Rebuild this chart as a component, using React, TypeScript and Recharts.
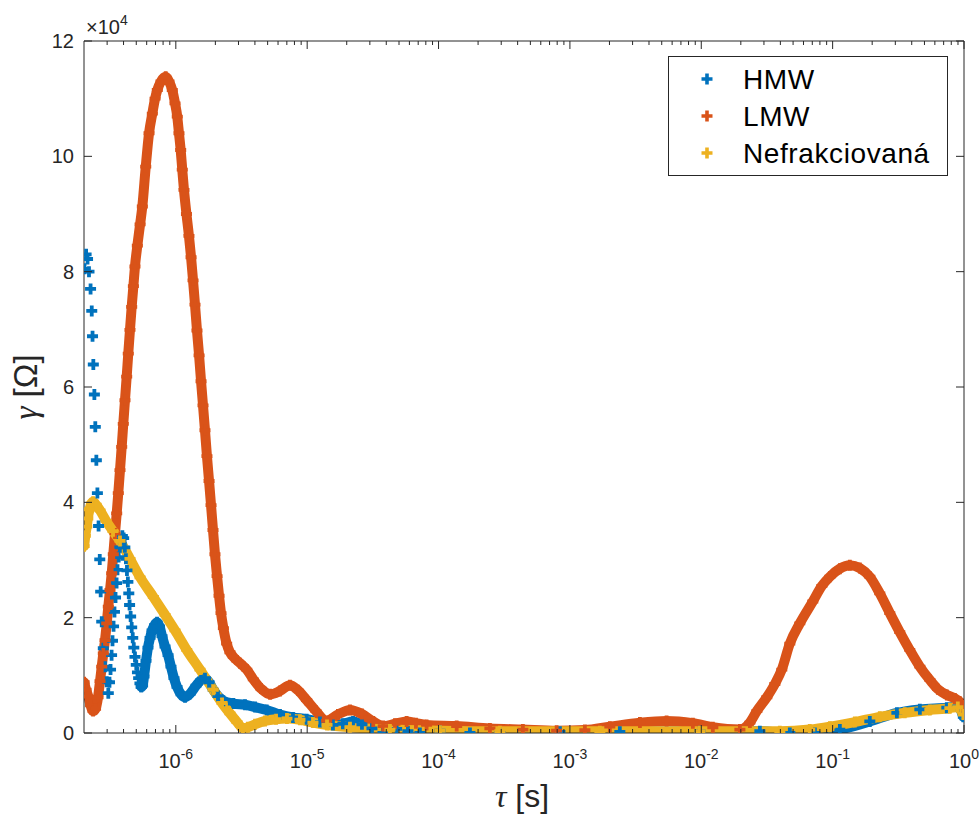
import { ComposedChart, Line, XAxis, YAxis } from "recharts";

const BLUE = "#0072BD";
const ORANGE = "#D95319";
const YELLOW = "#EDB120";
const AXIS = "#262626";
const SANS = '"Liberation Sans", Arial, Helvetica, sans-serif';
const SERIF = '"Liberation Serif", "DejaVu Serif", serif';

// tau is kept as log10(tau / s), gamma in units of 1e4 Ohm (axis shows x10^4)

// HMW, first part: sparse markers only
const hmwEdgeLogTau = [
  -6.695, -6.683, -6.672, -6.661, -6.649, -6.64, -6.634, -6.628, -6.62, -6.613,
  -6.605, -6.597, -6.588, -6.579, -6.572, -6.564, -6.552, -6.539, -6.526, -6.514,
  -6.505, -6.497, -6.489, -6.482, -6.474, -6.467, -6.459, -6.451, -6.444, -6.435,
  -6.426, -6.417, -6.407, -6.397, -6.388, -6.38, -6.372, -6.365, -6.358, -6.352,
  -6.344, -6.336, -6.328, -6.32, -6.311, -6.301, -6.292, -6.283, -6.273, -6.263,
];
const hmwEdgeGamma = [
  8.05, 8.3, 8.22, 8.0, 7.7, 7.32, 6.88, 6.39, 5.87, 5.31,
  4.73, 4.16, 3.59, 3.01, 2.45, 1.93, 1.47, 1.15, 0.89, 0.69,
  0.88, 1.1, 1.35, 1.6, 1.85, 2.1, 2.35, 2.6, 2.83, 3.05,
  3.22, 3.35, 3.42, 3.38, 3.22, 3.02, 2.82, 2.62, 2.42, 2.22,
  2.02, 1.83, 1.65, 1.48, 1.32, 1.18, 1.05, 0.95, 0.86, 0.8,
];

// HMW, rest of the curve
const hmwLogTau = [
  -6.263, -6.253, -6.242, -6.227, -6.212, -6.196, -6.181, -6.162, -6.143, -6.124,
  -6.105, -6.082, -6.059, -6.037, -6.014, -5.991, -5.96, -5.93, -5.892, -5.846,
  -5.808, -5.778, -5.747, -5.715, -5.679, -5.638, -5.562, -5.473, -5.397, -5.308,
  -5.207, -5.108, -5.004, -4.903, -4.804, -4.728, -4.651, -4.583, -4.507, -4.423,
  -4.319, -4.233, -4.142, -3.989, -3.761, -3.533, -3.076, -2.62, -2.011, -1.554,
  -1.326, -1.135, -0.945, -0.717, -0.511, -0.336, -0.131, -0.047, -0.005,
];
const hmwGamma = [
  0.8, 0.82, 0.98, 1.25, 1.48, 1.65, 1.78, 1.87, 1.92, 1.85,
  1.68, 1.5, 1.35, 1.15, 0.95, 0.8, 0.67, 0.62, 0.68, 0.82,
  0.92, 0.95, 0.88, 0.75, 0.64, 0.56, 0.51, 0.49, 0.45, 0.4,
  0.32, 0.27, 0.24, 0.19, 0.14, 0.16, 0.2, 0.15, 0.08, 0.0,
  0.07, 0.03, 0.0, 0.04, 0.0, 0.0, 0.02, 0.02, 0.03, 0.03,
  0.0, 0.0, 0.06, 0.2, 0.35, 0.41, 0.44, 0.46, 0.28,
];

const lmwLogTau = [
  -6.698, -6.683, -6.666, -6.649, -6.63, -6.611, -6.592, -6.577, -6.564, -6.552,
  -6.539, -6.526, -6.514, -6.501, -6.488, -6.476, -6.463, -6.45, -6.438, -6.425,
  -6.412, -6.4, -6.387, -6.374, -6.362, -6.349, -6.336, -6.323, -6.311, -6.293,
  -6.272, -6.255, -6.229, -6.204, -6.179, -6.158, -6.141, -6.113, -6.077, -6.052,
  -6.027, -6.006, -5.989, -5.976, -5.963, -5.951, -5.938, -5.919, -5.9, -5.884,
  -5.869, -5.854, -5.839, -5.823, -5.808, -5.793, -5.778, -5.763, -5.747, -5.732,
  -5.717, -5.702, -5.686, -5.671, -5.656, -5.638, -5.613, -5.588, -5.562, -5.511,
  -5.46, -5.41, -5.352, -5.283, -5.207, -5.131, -5.07, -5.004, -4.933, -4.852,
  -4.766, -4.674, -4.583, -4.497, -4.421, -4.332, -4.243, -4.172, -4.091, -3.862,
  -3.609, -3.358, -3.101, -2.886, -2.696, -2.467, -2.264, -2.064, -1.912, -1.706,
  -1.63, -1.577, -1.501, -1.44, -1.387, -1.326, -1.25, -1.151, -1.082, -1.021,
  -0.945, -0.869, -0.793, -0.717, -0.641, -0.565, -0.489, -0.413, -0.336, -0.26,
  -0.199, -0.131, -0.07, -0.032, -0.005,
];
const lmwGamma = [
  0.88, 0.75, 0.63, 0.48, 0.38, 0.42, 0.62, 0.9, 1.15, 1.38,
  1.61, 1.9, 2.19, 2.48, 2.77, 3.1, 3.46, 3.81, 4.16, 4.56,
  4.96, 5.36, 5.77, 6.18, 6.58, 6.99, 7.39, 7.75, 8.09, 8.45,
  8.82, 9.13, 9.82, 10.4, 10.74, 11.0, 11.15, 11.3, 11.38, 11.3,
  11.15, 10.92, 10.69, 10.4, 10.11, 9.77, 9.42, 9.0, 8.62, 8.25,
  7.85, 7.43, 6.98, 6.55, 6.1, 5.68, 5.25, 4.8, 4.37, 3.95,
  3.52, 3.1, 2.72, 2.38, 2.08, 1.82, 1.55, 1.4, 1.32, 1.21,
  1.1, 0.93, 0.77, 0.67, 0.73, 0.83, 0.74, 0.57, 0.38, 0.21,
  0.32, 0.4, 0.33, 0.2, 0.12, 0.16, 0.2, 0.17, 0.14, 0.12,
  0.08, 0.06, 0.04, 0.05, 0.11, 0.18, 0.21, 0.17, 0.1, 0.06,
  0.18, 0.38, 0.62, 0.85, 1.1, 1.55, 1.9, 2.28, 2.55, 2.71,
  2.85, 2.91, 2.86, 2.71, 2.42, 2.08, 1.75, 1.44, 1.15, 0.92,
  0.76, 0.66, 0.6, 0.54, 0.45,
];

const nefLogTau = [
  -6.698, -6.689, -6.678, -6.67, -6.657, -6.642, -6.63, -6.607, -6.577, -6.531,
  -6.478, -6.425, -6.349, -6.272, -6.171, -6.082, -6.006, -5.917, -5.816, -5.715,
  -5.648, -5.588, -5.534, -5.489, -5.451, -5.397, -5.321, -5.237, -5.154, -5.055,
  -4.956, -4.849, -4.674, -4.37, -3.989, -3.533, -2.772, -2.011, -1.402, -1.174,
  -1.021, -0.831, -0.641, -0.451, -0.26, -0.108, -0.047, -0.005,
];
const nefGamma = [
  3.24, 3.42, 3.58, 3.72, 3.88, 3.98, 4.01, 3.96, 3.86, 3.68,
  3.5, 3.33, 3.02, 2.7, 2.36, 2.05, 1.78, 1.44, 1.1, 0.75,
  0.52, 0.34, 0.19, 0.08, 0.1, 0.15, 0.21, 0.24, 0.25, 0.23,
  0.18, 0.14, 0.1, 0.06, 0.04, 0.03, 0.03, 0.03, 0.03, 0.06,
  0.11, 0.19, 0.28, 0.35, 0.4, 0.43, 0.45, 0.32,
];

const seriesNames = ["HMW", "LMW", "Nefrakciovaná"];
const seriesColors = [BLUE, ORANGE, YELLOW];

const majorTicks = [1e-6, 1e-5, 1e-4, 1e-3, 1e-2, 1e-1, 1];
const yTicks = [0, 2, 4, 6, 8, 10, 12];

const minorTicks: number[] = [];
for (let e = -7; e < 0; e++) {
  for (let m = 2; m <= 9; m++) {
    const v = m * 10 ** e;
    if (v > 2.0001e-7) minorTicks.push(v);
  }
}
const xTicks = [...majorTicks, ...minorTicks].sort((a, b) => a - b);

const rows = (lt: number[], g: number[]) => lt.map((l, i) => ({ tau: 10 ** l, gamma: g[i] }));

const isMajor = (v: number) => Math.abs(Math.log10(v) - Math.round(Math.log10(v))) < 1e-6;

const plus = (color: string) => (p: any) => {
  if (p.cx == null || p.cy == null) return <g key={p.index} />;
  const r = 5.5;
  return (
    <path
      key={p.index}
      d={`M${p.cx - r},${p.cy}H${p.cx + r}M${p.cx},${p.cy - r}V${p.cy + r}`}
      stroke={color}
      strokeWidth={3.8}
      fill="none"
    />
  );
};

const BottomTick = (p: any) => {
  const v = p.payload.value;
  const major = isMajor(v);
  return (
    <g>
      <line x1={p.x} x2={p.x} y1={p.y} y2={p.y - (major ? 8 : 4)} stroke={AXIS} />
      {major && (
        <text x={p.x} y={p.y + 35} textAnchor="middle" fontFamily={SANS} fontSize={20} fill={AXIS}>
          <tspan>10</tspan>
          <tspan dy={-9} fontSize={14}>
            {String(Math.round(Math.log10(v)))}
          </tspan>
        </text>
      )}
    </g>
  );
};

const TopTick = (p: any) => {
  const major = isMajor(p.payload.value);
  return <line x1={p.x} x2={p.x} y1={p.y} y2={p.y + (major ? 8 : 4)} stroke={AXIS} />;
};

const LeftTick = (p: any) => (
  <g>
    <line x1={p.x} x2={p.x + 8} y1={p.y} y2={p.y} stroke={AXIS} />
    <text x={p.x - 10} y={p.y + 7} textAnchor="end" fontFamily={SANS} fontSize={20} fill={AXIS}>
      {p.payload.value}
    </text>
  </g>
);

const RightTick = (p: any) => <line x1={p.x} x2={p.x - 8} y1={p.y} y2={p.y} stroke={AXIS} />;

export default function App() {
  return (
    <div style={{ position: "absolute", left: 0, top: 0, width: 980, height: 816, background: "#fff" }}>
      <ComposedChart width={980} height={816} margin={{ top: 0, right: 0, bottom: 0, left: 0 }}>
        <XAxis
          xAxisId="b"
          dataKey="tau"
          type="number"
          scale="log"
          domain={[2e-7, 1]}
          allowDataOverflow
          ticks={xTicks}
          interval={0}
          height={83}
          tickSize={0}
          tickMargin={0}
          tickLine={false}
          axisLine={{ stroke: AXIS }}
          tick={BottomTick}
        />
        <XAxis
          xAxisId="t"
          orientation="top"
          dataKey="tau"
          type="number"
          scale="log"
          domain={[2e-7, 1]}
          allowDataOverflow
          ticks={xTicks}
          interval={0}
          height={41}
          tickSize={0}
          tickMargin={0}
          tickLine={false}
          axisLine={{ stroke: AXIS }}
          tick={TopTick}
        />
        <YAxis
          yAxisId="l"
          type="number"
          domain={[0, 12]}
          allowDataOverflow
          ticks={yTicks}
          interval={0}
          width={84}
          tickSize={0}
          tickMargin={0}
          tickLine={false}
          axisLine={{ stroke: AXIS }}
          tick={LeftTick}
        />
        <YAxis
          yAxisId="r"
          orientation="right"
          type="number"
          domain={[0, 12]}
          allowDataOverflow
          ticks={yTicks}
          interval={0}
          width={16}
          tickSize={0}
          tickMargin={0}
          tickLine={false}
          axisLine={{ stroke: AXIS }}
          tick={RightTick}
        />
        <Line
          xAxisId="b"
          yAxisId="l"
          data={rows(hmwEdgeLogTau, hmwEdgeGamma)}
          dataKey="gamma"
          stroke="none"
          dot={plus(BLUE)}
          activeDot={false}
          isAnimationActive={false}
        />
        <Line
          xAxisId="b"
          yAxisId="l"
          data={rows(hmwLogTau, hmwGamma)}
          dataKey="gamma"
          type="monotone"
          stroke={BLUE}
          strokeWidth={10}
          strokeLinejoin="round"
          strokeLinecap="round"
          dot={plus(BLUE)}
          activeDot={false}
          isAnimationActive={false}
        />
        <Line
          xAxisId="b"
          yAxisId="l"
          data={rows(lmwLogTau, lmwGamma)}
          dataKey="gamma"
          type="monotone"
          stroke={ORANGE}
          strokeWidth={10}
          strokeLinejoin="round"
          strokeLinecap="round"
          dot={plus(ORANGE)}
          activeDot={false}
          isAnimationActive={false}
        />
        <Line
          xAxisId="b"
          yAxisId="l"
          data={rows(nefLogTau, nefGamma)}
          dataKey="gamma"
          type="monotone"
          stroke={YELLOW}
          strokeWidth={10}
          strokeLinejoin="round"
          strokeLinecap="round"
          dot={plus(YELLOW)}
          activeDot={false}
          isAnimationActive={false}
        />
      </ComposedChart>

      <svg
        width={980}
        height={816}
        style={{ position: "absolute", left: 0, top: 0, pointerEvents: "none" }}
      >
        <text x={86} y={34} fontFamily={SANS} fontSize={20} fill={AXIS}>
          ×10
          <tspan dy={-9} fontSize={14}>
            4
          </tspan>
        </text>
        <text x={522} y={807} textAnchor="middle" fontSize={32} fill={AXIS}>
          <tspan fontFamily={SERIF} fontStyle="italic">
            τ
          </tspan>
          <tspan fontFamily={SANS}> [s]</tspan>
        </text>
        <text
          transform="rotate(-90)"
          x={-387}
          y={37}
          textAnchor="middle"
          fontSize={33}
          fill={AXIS}
        >
          <tspan fontFamily={SERIF} fontStyle="italic">
            γ
          </tspan>
          <tspan fontFamily={SANS}> [Ω]</tspan>
        </text>

        <rect x={668.5} y={56.5} width={279} height={119} fill="#fff" stroke={AXIS} strokeWidth={1} />
        {seriesNames.map((name, i) => {
          const cy = 79 + i * 37;
          return (
            <g key={name}>
              <path
                d={`M${701.5},${cy}H${712.5}M${707},${cy - 5.5}V${cy + 5.5}`}
                stroke={seriesColors[i]}
                strokeWidth={3.6}
              />
              <text x={743} y={cy + 10} fontFamily={SANS} fontSize={28} letterSpacing={0.6} fill="#000">
                {name}
              </text>
            </g>
          );
        })}
      </svg>
    </div>
  );
}
